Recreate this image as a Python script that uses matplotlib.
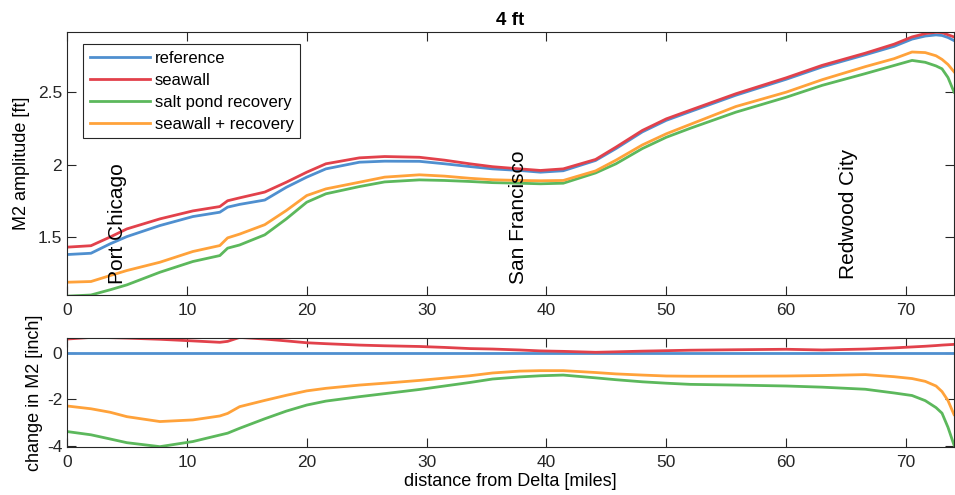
import matplotlib
matplotlib.use('Agg')
from matplotlib import pyplot as plt

plt.rcParams['font.family'] = ['Liberation Sans', 'DejaVu Sans']
plt.rcParams['axes.unicode_minus'] = False

# distance from Delta [miles]
dist = [0, 2, 3.6, 5, 7.75, 10.5, 12.75, 13.4, 14.4, 16.5, 18.3, 20, 21.6, 24.4,
        26.5, 29.4, 31.5, 33.6, 35.5, 37.75, 39.5, 41.4, 44.1, 45.8, 48, 50, 52,
        55.8, 60, 63, 66.6, 69, 70.5, 71.6, 72.5, 73, 73.5, 74]

# M2 amplitude [ft]
amp_reference = [1.379, 1.388, 1.453, 1.503, 1.579, 1.641, 1.671, 1.706, 1.725, 1.755,
                 1.843, 1.913, 1.970, 2.016, 2.023, 2.022, 2.005, 1.986, 1.970, 1.959,
                 1.947, 1.957, 2.028, 2.110, 2.225, 2.305, 2.365, 2.478, 2.588, 2.673,
                 2.757, 2.815, 2.865, 2.886, 2.894, 2.890, 2.876, 2.855]
amp_seawall = [1.430, 1.440, 1.500, 1.556, 1.625, 1.680, 1.710, 1.750, 1.770, 1.810,
               1.878, 1.947, 2.005, 2.046, 2.055, 2.050, 2.030, 2.005, 1.985, 1.970,
               1.959, 1.970, 2.035, 2.120, 2.235, 2.315, 2.375, 2.488, 2.598, 2.684,
               2.768, 2.830, 2.880, 2.903, 2.912, 2.910, 2.895, 2.880]
amp_saltpond = [1.092, 1.100, 1.136, 1.170, 1.257, 1.331, 1.372, 1.423, 1.445, 1.515,
                1.625, 1.740, 1.798, 1.848, 1.880, 1.894, 1.890, 1.883, 1.875, 1.871,
                1.867, 1.871, 1.942, 2.005, 2.110, 2.188, 2.250, 2.361, 2.464, 2.546,
                2.627, 2.683, 2.718, 2.705, 2.680, 2.660, 2.600, 2.500]
amp_both = [1.188, 1.193, 1.234, 1.269, 1.326, 1.400, 1.441, 1.494, 1.520, 1.585,
            1.683, 1.786, 1.832, 1.878, 1.913, 1.929, 1.920, 1.905, 1.895, 1.890,
            1.888, 1.890, 1.956, 2.030, 2.135, 2.212, 2.277, 2.400, 2.499, 2.585,
            2.675, 2.730, 2.776, 2.772, 2.750, 2.725, 2.690, 2.640]

# change in M2 [inch]
chg_reference = [0.0, 0.0, 0.0, 0.0, 0.0, 0.0, 0.0, 0.0, 0.0, 0.0, 0.0, 0.0, 0.0,
                 0.0, 0.0, 0.0, 0.0, 0.0, 0.0, 0.0, 0.0, 0.0, 0.0, 0.0, 0.0, 0.0,
                 0.0, 0.0, 0.0, 0.0, 0.0, 0.0, 0.0, 0.0, 0.0, 0.0, 0.0, 0.0]
chg_seawall = [0.60, 0.67, 0.66, 0.64, 0.59, 0.52, 0.46, 0.50, 0.67, 0.60, 0.52, 0.44,
               0.40, 0.34, 0.31, 0.28, 0.24, 0.19, 0.17, 0.13, 0.09, 0.07, 0.03, 0.05,
               0.08, 0.10, 0.12, 0.14, 0.16, 0.13, 0.17, 0.22, 0.26, 0.29, 0.32, 0.34,
               0.355, 0.37]
chg_saltpond = [-3.38, -3.52, -3.70, -3.86, -4.03, -3.81, -3.53, -3.45, -3.24, -2.83,
                -2.50, -2.24, -2.07, -1.88, -1.75, -1.57, -1.42, -1.27, -1.12, -1.03,
                -0.98, -0.95, -1.07, -1.15, -1.24, -1.30, -1.35, -1.38, -1.42, -1.47,
                -1.56, -1.72, -1.83, -2.05, -2.35, -2.59, -3.20, -3.96]
chg_both = [-2.28, -2.40, -2.55, -2.74, -2.95, -2.88, -2.71, -2.60, -2.31, -2.04,
            -1.82, -1.63, -1.52, -1.38, -1.30, -1.18, -1.08, -0.98, -0.86, -0.78,
            -0.76, -0.76, -0.84, -0.90, -0.95, -0.99, -1.00, -1.00, -0.99, -0.97,
            -0.93, -1.02, -1.10, -1.22, -1.42, -1.66, -2.05, -2.65]

labels = ['reference', 'seawall', 'salt pond recovery', 'seawall + recovery']
colors = ['#4f8fcf', '#e2414b', '#5cb85c', '#ffa23a']

places = ['Port Chicago', 'San Francisco', 'Redwood City']
place_x = [4.25, 37.7, 65.2]
place_y = [1.179, 1.179, 1.207]

fig = plt.figure(figsize=(9.55, 4.95), dpi=100)
ax1 = fig.add_axes([67 / 955, 200 / 495, 887 / 955, 263 / 495])
ax2 = fig.add_axes([67 / 955, 48 / 495, 887 / 955, 109 / 495])

for ys, c, lab in zip([amp_reference, amp_seawall, amp_saltpond, amp_both], colors, labels):
    ax1.plot(dist, ys, color=c, lw=2, label=lab)
for ys, c in zip([chg_reference, chg_seawall, chg_saltpond, chg_both], colors):
    ax2.plot(dist, ys, color=c, lw=2)

for name, px, py in zip(places, place_x, place_y):
    ax1.text(px, py, name, rotation=90, ha='center', va='bottom', fontsize=15)

ax1.set_xlim(0, 74)
ax1.set_ylim(1.10, 2.914)
ax1.set_yticks([1.5, 2, 2.5])
ax1.set_yticklabels(['1.5', '2', '2.5'])
ax1.set_title('4 ft', fontsize=13.5, fontweight='bold', pad=5)
ax1.set_ylabel('M2 amplitude [ft]', fontsize=13)
ax1.yaxis.set_label_coords(-0.0417, 0.5)

ax2.set_xlim(0, 74)
ax2.set_ylim(-4.045, 0.645)
ax2.set_yticks([-4, -2, 0])
ax2.set_xlabel('distance from Delta [miles]', fontsize=13, labelpad=2)
ax2.set_ylabel('change in M2 [inch]', fontsize=13)
ax2.yaxis.set_label_coords(-0.0275, 0.5)

for ax in (ax1, ax2):
    ax.set_xticks(range(0, 71, 10))
    ax.tick_params(direction='in', length=6.5, width=0.8, top=True, right=True,
                   labelsize=12.5, color='#262626', labelcolor='#262626')
    ax.tick_params(axis='x', pad=6)
    ax.tick_params(axis='y', pad=3.5)
    for sp in ax.spines.values():
        sp.set_color('#262626')
        sp.set_linewidth(0.8)

leg = ax1.legend(loc='upper left', bbox_to_anchor=(0.018, 0.954), borderaxespad=0,
                 fontsize=12, handlelength=3.6, handletextpad=0.3, labelspacing=0.42,
                 borderpad=0.4, fancybox=False, framealpha=1, edgecolor='#262626')
leg.get_frame().set_linewidth(0.8)

fig.savefig('out.png', dpi=100)
